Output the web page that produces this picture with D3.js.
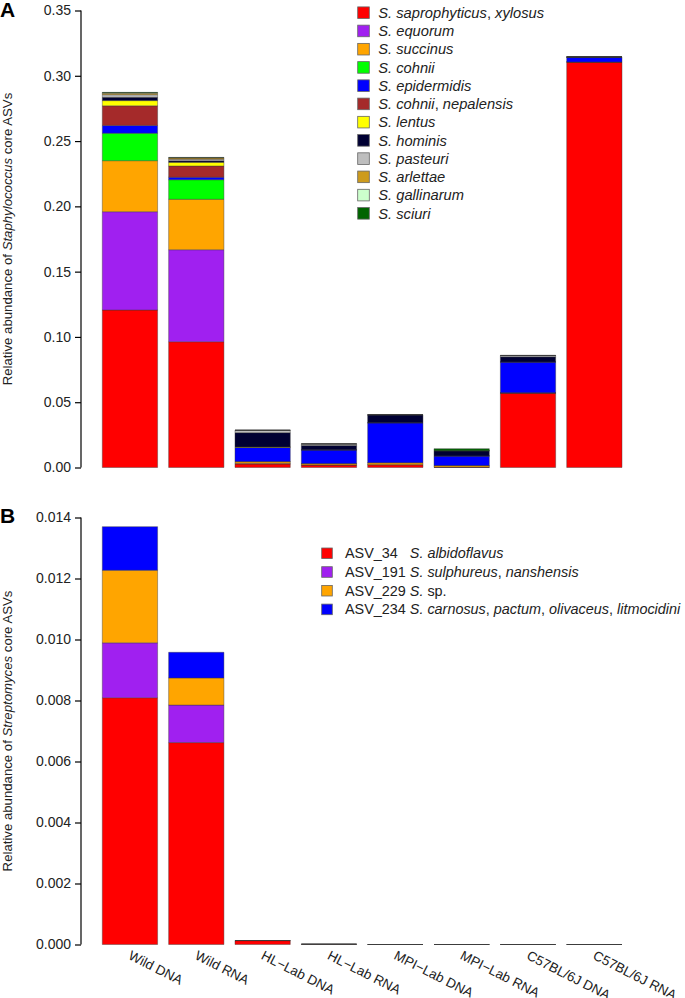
<!DOCTYPE html>
<html><head><meta charset="utf-8">
<script src="https://cdn.jsdelivr.net/npm/d3@7"></script>
<style>
html,body{margin:0;padding:0;background:#fff;}
svg{display:block;font-family:"Liberation Sans",Arial,Helvetica,sans-serif;}
text{white-space:pre;}
</style></head>
<body>
<svg id="chart" width="685" height="998"></svg>
<script>
// ---------- DATA ----------
const categories = ["Wild DNA","Wild RNA","HL\u2212Lab DNA","HL\u2212Lab RNA","MPI\u2212Lab DNA","MPI\u2212Lab RNA","C57BL/6J DNA","C57BL/6J RNA"];

// Panel A: Staphylococcus core ASVs (stack order bottom -> top)
const staphSpecies = [
  [["S. saprophyticus","i"],[", ",""],["xylosus","i"]],
  [["S. equorum","i"]],
  [["S. succinus","i"]],
  [["S. cohnii","i"]],
  [["S. epidermidis","i"]],
  [["S. cohnii","i"],[", ",""],["nepalensis","i"]],
  [["S. lentus","i"]],
  [["S. hominis","i"]],
  [["S. pasteuri","i"]],
  [["S. arlettae","i"]],
  [["S. gallinarum","i"]],
  [["S. sciuri","i"]]
];
const staphColors = ["#ff0000","#a020f0","#ffa500","#00ff00","#0000ff","#a52a2a","#ffff00","#000033","#bebebe","#cd9b1d","#ccffcc","#006400"];
const saprophyticus = [0.1206,0.0963,0.0027,0.0019,0.0021,0.0003,0.0570,0.3106];
const equorum       = [0.0753,0.0705,0.0003,0.0001,0.0001,0.0000,0.0000,0.0000];
const succinus      = [0.0391,0.0386,0.0015,0.0010,0.0015,0.0012,0.0003,0.0000];
const cohnii        = [0.0210,0.0150,0.0000,0.0000,0.0000,0.0000,0.0000,0.0000];
const epidermidis   = [0.0060,0.0019,0.0109,0.0105,0.0306,0.0074,0.0235,0.0036];
const cohniiNep     = [0.0150,0.0086,0.0000,0.0000,0.0000,0.0000,0.0000,0.0000];
const lentus        = [0.0040,0.0028,0.0003,0.0000,0.0000,0.0000,0.0000,0.0000];
const hominis       = [0.0025,0.0012,0.0110,0.0033,0.0061,0.0040,0.0040,0.0003];
const pasteuri      = [0.0020,0.0012,0.0018,0.0013,0.0000,0.0000,0.0010,0.0000];
const arlettae      = [0.0012,0.0010,0.0000,0.0000,0.0000,0.0000,0.0000,0.0000];
const gallinarum    = [0.0003,0.0002,0.0000,0.0000,0.0000,0.0000,0.0000,0.0000];
const sciuri        = [0.0003,0.0002,0.0000,0.0000,0.0000,0.0015,0.0000,0.0000];
const staphSeries = [saprophyticus,equorum,succinus,cohnii,epidermidis,cohniiNep,lentus,hominis,pasteuri,arlettae,gallinarum,sciuri];
const staphTicks = [0,0.05,0.10,0.15,0.20,0.25,0.30,0.35];

// Panel B: Streptomyces core ASVs
const streptoCodes = ["ASV_34   ","ASV_191 ","ASV_229 ","ASV_234 "];
const streptoSpecies = [
  [["S. albidoflavus","i"]],
  [["S. sulphureus","i"],[", ",""],["nanshensis","i"]],
  [["S.","i"],[" sp.",""]],
  [["S. carnosus","i"],[", ",""],["pactum","i"],[", ",""],["olivaceus","i"],[", ",""],["litmocidini","i"]]
];
const streptoColors = ["#ff0000","#a020f0","#ffa500","#0000ff"];
const asv34  = [0.00809,0.00662,0.00013,0.00001,0,0,0,0];
const asv191 = [0.00180,0.00123,0,0,0,0,0,0];
const asv229 = [0.00238,0.00089,0,0,0,0,0,0];
const asv234 = [0.00143,0.00084,0,0,0,0,0,0];
const streptoSeries = [asv34,asv191,asv229,asv234];
const streptoTicks = [0,0.002,0.004,0.006,0.008,0.010,0.012,0.014];

// ---------- DRAW ----------
const svg = d3.select("#chart");
const axisX = 81;
const x = d3.scaleBand().domain(categories).range([102.3, 622]).paddingInner(0.2/1.2).paddingOuter(0);

function panel(opts){
  const {series, colors, ticks, fmt, top, bottom, max, title, letter, letterY} = opts;
  const y = d3.scaleLinear().domain([0, max]).range([bottom, top]);
  const g = svg.append("g");
  const rows = categories.map((c,i)=>{ const o={cat:c}; series.forEach((s,k)=>o["s"+k]=s[i]); return o; });
  const stack = d3.stack().keys(series.map((s,k)=>"s"+k))(rows);
  stack.forEach((layer,k)=>{
    g.append("g").selectAll("path").data(layer).join("path")
      .attr("d", d=>{
        const p=d3.path(); const x0=x(d.data.cat), x1=x0+x.bandwidth();
        const y0=y(d[0]), y1=y(d[1]);
        p.moveTo(x0,y0); p.lineTo(x1,y0); p.lineTo(x1,y1); p.lineTo(x0,y1); p.closePath(); return p.toString();
      })
      .attr("fill", colors[k]).attr("stroke","#3a3a3a").attr("stroke-width",0.6).attr("stroke-opacity",0.7);
  });
  const ax = d3.axisLeft(y).tickValues(ticks).tickFormat(fmt).tickSize(6).tickPadding(4);
  const ag = g.append("g").attr("transform",`translate(${axisX},0)`).call(ax);
  ag.select(".domain").attr("d",`M0,${y(0)}V${y(max)}`).attr("stroke","#000").attr("stroke-width",1.2);
  ag.selectAll(".tick line").attr("stroke","#000").attr("stroke-width",1.2);
  ag.selectAll(".tick text").attr("font-size",14).attr("fill","#222").attr("font-family","Liberation Sans, Arial, sans-serif");
  const t = g.append("text").attr("transform",`translate(12,${(top+bottom)/2}) rotate(-90)`)
    .attr("text-anchor","middle").attr("font-size",13.2).attr("fill","#222");
  title.forEach(([s,st])=>t.append("tspan").text(s).attr("font-style",st==="i"?"italic":"normal"));
  g.append("text").attr("x",0).attr("y",letterY).attr("font-size",21).attr("font-weight","bold").text(letter);
  return {y,g};
}

panel({series:staphSeries, colors:staphColors, ticks:staphTicks, fmt:d3.format(".2f"),
  top:10.5, bottom:467.5, max:0.35, letter:"A", letterY:17,
  title:[["Relative abundance of ",""],["Staphylococcus","i"],[" core ASVs",""]]});

panel({series:streptoSeries, colors:streptoColors, ticks:streptoTicks, fmt:d3.format(".3f"),
  top:517.5, bottom:944.5, max:0.014, letter:"B", letterY:523,
  title:[["Relative abundance of ",""],["Streptomyces","i"],[" core ASVs",""]]});

// x labels (panel B)
svg.append("g").selectAll("text").data(categories).join("text")
  .attr("transform", d=>`translate(${x(d)+x.bandwidth()/2+2},${950}) rotate(27)`)
  .attr("font-size",13.5).attr("fill","#222").attr("dominant-baseline","hanging").text(d=>d);

// Legend A
const legA = svg.append("g");
staphSpecies.forEach((parts,i)=>{
  const cy = 12.7 + i*18.24;
  legA.append("rect").attr("x",357.7).attr("y",cy-5.8).attr("width",11.6).attr("height",11.6)
    .attr("fill",staphColors[i]).attr("stroke","#666").attr("stroke-width",0.8);
  const t = legA.append("text").attr("x",378.3).attr("y",cy+5.2).attr("font-size",14.7).attr("fill","#222");
  parts.forEach(([s,st])=>t.append("tspan").text(s).attr("font-style",st==="i"?"italic":"normal"));
});

// Legend B
const legB = svg.append("g");
streptoCodes.forEach((code,i)=>{
  const cy = 553.3 + i*18.7;
  legB.append("rect").attr("x",321.7).attr("y",cy-5.3).attr("width",10.6).attr("height",10.6)
    .attr("fill",streptoColors[i]).attr("stroke","#666").attr("stroke-width",0.8);
  const t = legB.append("text").attr("x",345).attr("y",cy+5).attr("font-size",14.4).attr("fill","#222");
  t.append("tspan").text(code);
  streptoSpecies[i].forEach(([s,st])=>t.append("tspan").text(s).attr("font-style",st==="i"?"italic":"normal"));
});
</script>
</body></html>
